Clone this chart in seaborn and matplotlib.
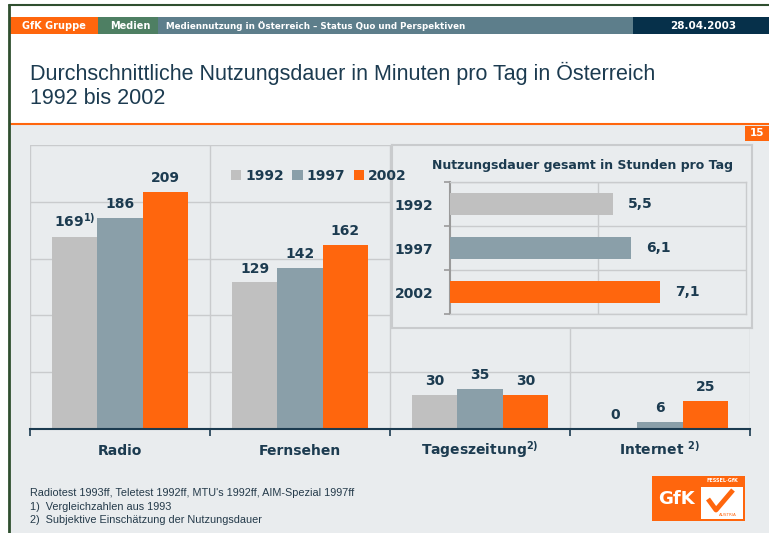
import matplotlib
matplotlib.use("Agg")
import matplotlib.pyplot as plt
import matplotlib.transforms as mtransforms
import seaborn as sns
import pandas as pd
from matplotlib.patches import Rectangle, Patch

# ---------------- data ----------------
categories = ["Radio", "Fernsehen", "Tageszeitung", "Internet"]
cat_labels = ["Radio", "Fernsehen", "Tageszeitung$^{2)}$", "Internet $^{2)}$"]
years = ["1992", "1997", "2002"]
minutes_1992 = [169, 129, 30, 0]
minutes_1997 = [186, 142, 35, 6]
minutes_2002 = [209, 162, 30, 25]
hours_total = [5.5, 6.1, 7.1]

title_lines = ["Durchschnittliche Nutzungsdauer in Minuten pro Tag in Österreich", "1992 bis 2002"]
inset_title = "Nutzungsdauer gesamt in Stunden pro Tag"
footnotes = ["Radiotest 1993ff, Teletest 1992ff, MTU's 1992ff, AIM-Spezial 1997ff",
             "1)  Vergleichzahlen aus 1993",
             "2)  Subjektive Einschätzung der Nutzungsdauer"]

# ---------------- style ----------------
sns.set_theme(style="white")
plt.rcParams['font.family'] = ['DejaVu Sans']
plt.rcParams['mathtext.default'] = 'bf'

GREY = "#C0C0C0"
BLUEGREY = "#8A9FA9"
ORANGE = "#FF660D"
NAVY = "#1C3B50"
BG = "#E9ECEE"
GRID = "#C9CBCD"
palette = {"1992": GREY, "1997": BLUEGREY, "2002": ORANGE}

W, H = 769, 533
fig = plt.figure(figsize=(W / 100, H / 100), dpi=100)
fig.patch.set_facecolor("white")


def rect(x0, y0, x1, y1):
    return [x0 / W, 1 - y1 / H, (x1 - x0) / W, (y1 - y0) / H]


# background / decoration axes
bg = fig.add_axes([0, 0, 1, 1], zorder=0)
bg.set_xlim(0, W)
bg.set_ylim(H, 0)
bg.axis("off")
bg.add_patch(Rectangle((10, 124), W - 10, H - 124, color=BG, lw=0))
bg.plot([10, W], [124, 124], color=ORANGE, lw=1.5)
bg.plot([9, 9], [5, H], color="#2F4F2F", lw=2)
bg.plot([9, W], [5, 5], color="#2F4F2F", lw=1.5)
# header bar
bg.add_patch(Rectangle((10, 17), 88, 17, color="#FF660D", lw=0))
bg.add_patch(Rectangle((98, 17), 60, 17, color="#4E7F63", lw=0))
bg.add_patch(Rectangle((158, 17), 475, 17, color="#5D7E8B", lw=0))
bg.add_patch(Rectangle((633, 17), W - 633, 17, color="#06304A", lw=0))
bg.text(22, 26, "GfK Gruppe", color="white", fontsize=7, fontweight="bold", va="center")
bg.text(110, 26, "Medien", color="white", fontsize=7, fontweight="bold", va="center")
bg.text(166, 26, "Mediennutzung in Österreich – Status Quo und Perspektiven", color="white",
        fontsize=6.3, fontweight="bold", va="center")
bg.text(703, 26, "28.04.2003", color="white", fontsize=7.5, fontweight="bold", va="center", ha="center")
# title
for i, t in enumerate(title_lines):
    bg.text(30, 73 + i * 26, t, color=NAVY, fontsize=15.5, family="Liberation Sans", va="center")
# page number
bg.add_patch(Rectangle((745, 126), W - 745, 15, color=ORANGE, lw=0))
bg.text(757, 133.5, "15", color="white", fontsize=7.5, fontweight="bold", va="center", ha="center")
# footnotes
for i, t in enumerate(footnotes):
    bg.text(30, 493 + i * 13.5, t, color="#243A4A", fontsize=7.8, family="Liberation Sans", va="center")
# logo
bg.add_patch(Rectangle((652, 476), 93, 45, color=ORANGE, lw=0))
bg.add_patch(Rectangle((701, 487), 42, 32, color="white", lw=0))
bg.text(676, 499, "GfK", color="white", fontsize=13, fontweight="bold", va="center", ha="center")
bg.text(722, 481, "FESSEL·GfK", color="white", fontsize=3.5, fontweight="bold", va="center", ha="center")
bg.plot([708, 716, 733], [499, 510, 490], color=ORANGE, lw=3.5, solid_capstyle="butt")
bg.text(728, 515, "AUSTRIA", color=ORANGE, fontsize=3, va="center", ha="center")

# ---------------- main chart ----------------
df = pd.DataFrame({
    "cat": categories * 3,
    "year": [y for y in years for _ in categories],
    "val": minutes_1992 + minutes_1997 + minutes_2002,
})

ax = fig.add_axes(rect(30, 145, 750, 429), zorder=1)
ax.set_facecolor("none")
sns.barplot(data=df, x="cat", y="val", hue="year", palette=palette, width=0.755, gap=0,
            saturation=1, legend=False, ax=ax, zorder=3, linewidth=0, edgecolor="none")
ax.set_ylim(0, 250)
ax.set_xlim(-0.5, 3.5)
ax.set_yticks([50, 100, 150, 200, 250])
ax.set_yticklabels([])
ax.tick_params(axis="y", length=0)
ax.set_xticks(range(4))
ax.set_xticklabels([])
ax.set_xticks([-0.5, 0.5, 1.5, 2.5, 3.5], minor=True)
ax.tick_params(axis="x", which="major", length=0)
ax.tick_params(axis="x", which="minor", length=5, width=1.2, color=NAVY, direction="out", bottom=True)
ax.grid(axis="y", color=GRID, lw=1)
ax.grid(axis="x", which="minor", color=GRID, lw=1)
ax.grid(axis="x", which="major", visible=False)
for s in ["left", "right", "top"]:
    ax.spines[s].set_visible(False)
ax.spines["bottom"].set_color(NAVY)
ax.spines["bottom"].set_linewidth(1.5)
ax.spines["bottom"].set_zorder(4)
ax.set_xlabel("")
ax.set_ylabel("")

# category labels on a common baseline
trans = mtransforms.offset_copy(ax.get_xaxis_transform(), fig=fig, x=0, y=-26, units="dots")
for i, lab in enumerate(cat_labels):
    ax.text(i, 0, lab, transform=trans, ha="center", va="baseline", fontsize=10,
            fontweight="bold", color=NAVY)

for yi, cont in enumerate(ax.containers):
    vals = [minutes_1992, minutes_1997, minutes_2002][yi]
    labs = [str(v) for v in vals]
    if yi == 0:
        labs[0] = "169$^{1)}$"
    ax.bar_label(cont, labels=labs, padding=5, fontsize=10, fontweight="bold", color=NAVY)

handles = [Patch(facecolor=palette[y], edgecolor="none") for y in years]
fig.legend(handles, years, loc="center left", bbox_to_anchor=(218 / W, 1 - 176 / H), ncol=3,
           frameon=False, handlelength=0.75, handleheight=0.75, handletextpad=0.3,
           columnspacing=0.6, prop={"weight": "bold", "size": 10}, labelcolor=NAVY)

# ---------------- inset ----------------
box = fig.add_axes(rect(392, 145, 752, 328), zorder=2)
box.set_facecolor(BG)
box.set_xticks([])
box.set_yticks([])
for s in box.spines.values():
    s.set_color(GRID)
    s.set_linewidth(1.5)
box.text(0.53, 0.89, inset_title, transform=box.transAxes, ha="center", va="center",
         fontsize=9, fontweight="bold", color=NAVY)

df2 = pd.DataFrame({"year": years, "hours": hours_total})
ia = fig.add_axes(rect(450, 182, 746, 314), zorder=3)
ia.set_facecolor("none")
sns.barplot(data=df2, y="year", x="hours", hue="year", palette=palette, width=0.48,
            saturation=1, legend=False, orient="h", ax=ia, zorder=3, linewidth=0, edgecolor="none")
ia.set_xlim(0, 10)
ia.set_ylim(2.5, -0.5)
ia.set_xticks([5])
ia.set_xticklabels([])
ia.tick_params(axis="x", length=0)
ia.set_yticks([0, 1, 2])
ia.set_yticklabels(years, fontsize=10, fontweight="bold", color=NAVY)
ia.set_yticks([-0.5, 0.5, 1.5, 2.5], minor=True)
ia.tick_params(axis="y", which="major", length=0, pad=12)
ia.tick_params(axis="y", which="minor", length=4, width=1.2, color="#9A9A9A", left=True)
ia.grid(axis="x", color=GRID, lw=1)
ia.grid(axis="y", which="minor", color=GRID, lw=1)
for s in ["right", "top", "bottom"]:
    ia.spines[s].set_color(GRID)
    ia.spines[s].set_linewidth(1)
ia.spines["left"].set_color("#9A9A9A")
ia.spines["left"].set_linewidth(1.5)
ia.set_xlabel("")
ia.set_ylabel("")
for cont in ia.containers:
    ia.bar_label(cont, labels=[f"{v:.1f}".replace(".", ",") for v in cont.datavalues],
                 padding=11, fontsize=10, fontweight="bold", color=NAVY)

fig.savefig("out.png", dpi=100, facecolor=fig.get_facecolor())
